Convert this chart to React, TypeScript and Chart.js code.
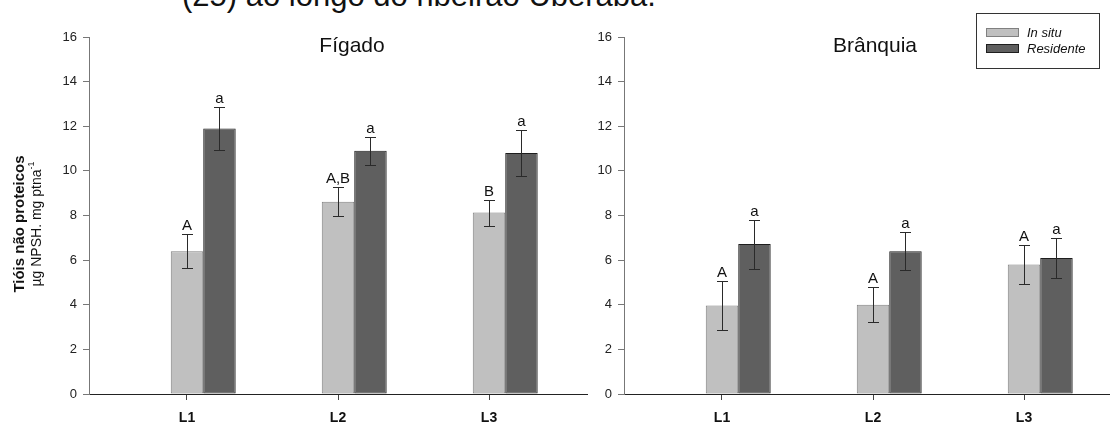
import React, { useEffect, useRef } from "react";
import { Chart, registerables } from "chart.js";

Chart.register(...registerables);

const FONT = '"Liberation Sans", Arial, Helvetica, sans-serif';

// ---- data ----
const CATEGORIES = ["L1", "L2", "L3"];
const SERIES = ["In situ", "Residente"];
const Y_MIN = 0;
const Y_MAX = 16;
const Y_STEP = 2;

const FIGADO_IN_SITU = [6.4, 8.62, 8.13];
const FIGADO_IN_SITU_ERR = [0.75, 0.64, 0.58];
const FIGADO_RESIDENTE = [11.9, 10.9, 10.8];
const FIGADO_RESIDENTE_ERR = [0.97, 0.64, 1.05];
const FIGADO_LETTERS_IN_SITU = ["A", "A,B", "B"];
const FIGADO_LETTERS_RESIDENTE = ["a", "a", "a"];

const BRANQUIA_IN_SITU = [3.97, 4.0, 5.8];
const BRANQUIA_IN_SITU_ERR = [1.1, 0.79, 0.86];
const BRANQUIA_RESIDENTE = [6.72, 6.4, 6.1];
const BRANQUIA_RESIDENTE_ERR = [1.1, 0.85, 0.9];
const BRANQUIA_LETTERS_IN_SITU = ["A", "A", "A"];
const BRANQUIA_LETTERS_RESIDENTE = ["a", "a", "a"];

const CAPTION = "(25) ao longo do ribeirão Uberaba.";
const Y_TITLE_1 = "Tióis não proteicos";
const Y_TITLE_2 = "µg NPSH. mg ptna";
const Y_TITLE_SUP = "-1";

// ---- styles ----
const LIGHT_FILL = "#c0c0c0";
const LIGHT_EDGE = "#808080";
const DARK_FILL = "#5f5f5f";
const DARK_EDGE = "#1e1e1e";
const CAT_PCT = 0.43;
const HALF_BAR = CAT_PCT / 4;
const PAD_UNITS = 0.649;
const SPAN_UNITS = 3.298;

type PanelProps = {
  title: string;
  titleX: number;
  inSitu: number[];
  inSituErr: number[];
  residente: number[];
  residenteErr: number[];
  lettersInSitu: string[];
  lettersResidente: string[];
  left: number;
  showYTitle: boolean;
  showLegend: boolean;
};

function makeDecor(p: PanelProps) {
  return {
    id: "decor",
    afterDatasetsDraw(chart: any) {
      const ctx = chart.ctx;
      const ys = chart.scales.y;
      chart.data.datasets.forEach((ds: any, di: number) => {
        const meta = chart.getDatasetMeta(di);
        meta.data.forEach((el: any, i: number) => {
          const v = ds.data[i].y;
          const e = ds.errors[i];
          const yt = Math.round(ys.getPixelForValue(v + e)) + 0.5;
          const yb = Math.round(ys.getPixelForValue(v - e)) + 0.5;
          const x = Math.round(el.x) + 0.5;
          ctx.save();
          ctx.strokeStyle = "#2a2a2a";
          ctx.lineWidth = 1;
          ctx.beginPath();
          ctx.moveTo(x, yt);
          ctx.lineTo(x, yb);
          ctx.moveTo(x - 5.5, yt);
          ctx.lineTo(x + 5.5, yt);
          ctx.moveTo(x - 5.5, yb);
          ctx.lineTo(x + 5.5, yb);
          ctx.stroke();
          ctx.fillStyle = "#111";
          ctx.font = `15px ${FONT}`;
          ctx.textAlign = "center";
          ctx.textBaseline = "alphabetic";
          ctx.fillText(ds.letters[i], el.x, yt - 5);
          ctx.restore();
        });
      });
    },
    afterDraw(chart: any) {
      const ctx = chart.ctx;
      ctx.save();
      // panel title
      ctx.fillStyle = "#111";
      ctx.font = `21px ${FONT}`;
      ctx.textAlign = "center";
      ctx.textBaseline = "alphabetic";
      ctx.fillText(p.title, p.titleX, 52);

      if (p.showYTitle) {
        ctx.save();
        ctx.translate(20, 224);
        ctx.rotate(-Math.PI / 2);
        ctx.font = `bold 15px ${FONT}`;
        ctx.textAlign = "center";
        ctx.textBaseline = "middle";
        ctx.fillText(Y_TITLE_1, 0, 0);
        ctx.restore();

        ctx.save();
        ctx.translate(37, 224);
        ctx.rotate(-Math.PI / 2);
        ctx.font = `14px ${FONT}`;
        const w1 = ctx.measureText(Y_TITLE_2).width;
        ctx.font = `9px ${FONT}`;
        const w2 = ctx.measureText(Y_TITLE_SUP).width;
        const start = -(w1 + w2) / 2;
        ctx.textAlign = "left";
        ctx.textBaseline = "middle";
        ctx.font = `14px ${FONT}`;
        ctx.fillText(Y_TITLE_2, start, 0);
        ctx.font = `9px ${FONT}`;
        ctx.fillText(Y_TITLE_SUP, start + w1, -5);
        ctx.restore();
      }

      if (p.showLegend) {
        const lx = 441, ly = 13, lw = 123, lh = 55;
        ctx.strokeStyle = "#333";
        ctx.lineWidth = 1;
        ctx.strokeRect(lx + 0.5, ly + 0.5, lw, lh);
        const fills = [LIGHT_FILL, DARK_FILL];
        const edges = [LIGHT_EDGE, DARK_EDGE];
        SERIES.forEach((s, i) => {
          const sy = ly + 15 + i * 16;
          ctx.fillStyle = fills[i];
          ctx.fillRect(lx + 10, sy, 33, 9);
          ctx.strokeStyle = edges[i];
          ctx.strokeRect(lx + 10.5, sy + 0.5, 32, 8);
          ctx.fillStyle = "#111";
          ctx.font = `italic 13px ${FONT}`;
          ctx.textAlign = "left";
          ctx.textBaseline = "middle";
          ctx.fillText(s, lx + 51, sy + 5);
        });
      }
      ctx.restore();
    },
  };
}

function Panel(p: PanelProps) {
  const ref = useRef<HTMLCanvasElement | null>(null);
  useEffect(() => {
    if (!ref.current) return;
    const toPoints = (vals: number[]) => vals.map((v, i) => ({ x: i + 1, y: v }));
    const xMin = 1 - HALF_BAR - PAD_UNITS;
    const chart = new Chart(ref.current, {
      type: "bar",
      data: {
        datasets: [
          {
            label: SERIES[0],
            data: toPoints(p.inSitu),
            errors: p.inSituErr,
            letters: p.lettersInSitu,
            backgroundColor: LIGHT_FILL,
            borderColor: LIGHT_EDGE,
            borderWidth: 1,
            borderSkipped: false,
            categoryPercentage: CAT_PCT,
            barPercentage: 1,
          } as any,
          {
            label: SERIES[1],
            data: toPoints(p.residente),
            errors: p.residenteErr,
            letters: p.lettersResidente,
            backgroundColor: DARK_FILL,
            borderColor: DARK_EDGE,
            borderWidth: 1,
            borderSkipped: false,
            categoryPercentage: CAT_PCT,
            barPercentage: 1,
          } as any,
        ],
      },
      options: {
        responsive: false,
        animation: false,
        events: [],
        layout: { padding: { top: 37, right: 3, left: 0, bottom: 0 } },
        plugins: {
          legend: { display: false },
          tooltip: { enabled: false },
          title: { display: false },
        },
        scales: {
          x: {
            type: "linear",
            min: xMin,
            max: xMin + SPAN_UNITS,
            offset: false,
            bounds: "data",
            afterBuildTicks: (s: any) => {
              s.ticks = CATEGORIES.map((_c, i) => ({ value: i + 1 - HALF_BAR }));
            },
            afterFit: (s: any) => {
              s.height = 30;
            },
            ticks: {
              autoSkip: false,
              maxRotation: 0,
              padding: 10,
              color: "#111",
              font: { family: FONT, size: 14, weight: "bold" },
              callback: (_v: any, i: number) => CATEGORIES[i],
            },
            grid: {
              display: true,
              drawOnChartArea: false,
              drawTicks: true,
              tickLength: 6,
              color: "#444",
              offset: false,
            },
            border: { display: true, color: "#222", width: 1 },
          },
          y: {
            min: Y_MIN,
            max: Y_MAX,
            afterFit: (s: any) => {
              s.width = 89;
            },
            ticks: {
              stepSize: Y_STEP,
              padding: 6,
              color: "#222",
              font: { family: FONT, size: 13 },
            },
            grid: {
              display: true,
              drawOnChartArea: false,
              drawTicks: true,
              tickLength: 6,
              color: "#777",
            },
            border: { display: true, color: "#777", width: 1 },
          },
        },
      } as any,
      plugins: [makeDecor(p)],
    });
    return () => chart.destroy();
  }, []);
  return (
    <canvas
      ref={ref}
      width={590}
      height={424}
      style={{ position: "absolute", left: p.left, top: 0, width: 590, height: 424 }}
    />
  );
}

export default function App() {
  return (
    <div
      style={{
        position: "absolute",
        left: 0,
        top: 0,
        width: 1110,
        height: 424,
        overflow: "hidden",
        background: "#fff",
      }}
    >
      <div
        style={{
          position: "absolute",
          left: 182,
          top: -20,
          fontFamily: FONT,
          fontSize: 31,
          lineHeight: "31px",
          color: "#111",
          whiteSpace: "nowrap",
        }}
      >
        {CAPTION}
      </div>
      <Panel
        title="Fígado"
        titleX={352}
        inSitu={FIGADO_IN_SITU}
        inSituErr={FIGADO_IN_SITU_ERR}
        residente={FIGADO_RESIDENTE}
        residenteErr={FIGADO_RESIDENTE_ERR}
        lettersInSitu={FIGADO_LETTERS_IN_SITU}
        lettersResidente={FIGADO_LETTERS_RESIDENTE}
        left={0}
        showYTitle={true}
        showLegend={false}
      />
      <Panel
        title="Brânquia"
        titleX={340}
        inSitu={BRANQUIA_IN_SITU}
        inSituErr={BRANQUIA_IN_SITU_ERR}
        residente={BRANQUIA_RESIDENTE}
        residenteErr={BRANQUIA_RESIDENTE_ERR}
        lettersInSitu={BRANQUIA_LETTERS_IN_SITU}
        lettersResidente={BRANQUIA_LETTERS_RESIDENTE}
        left={535}
        showYTitle={false}
        showLegend={true}
      />
    </div>
  );
}
